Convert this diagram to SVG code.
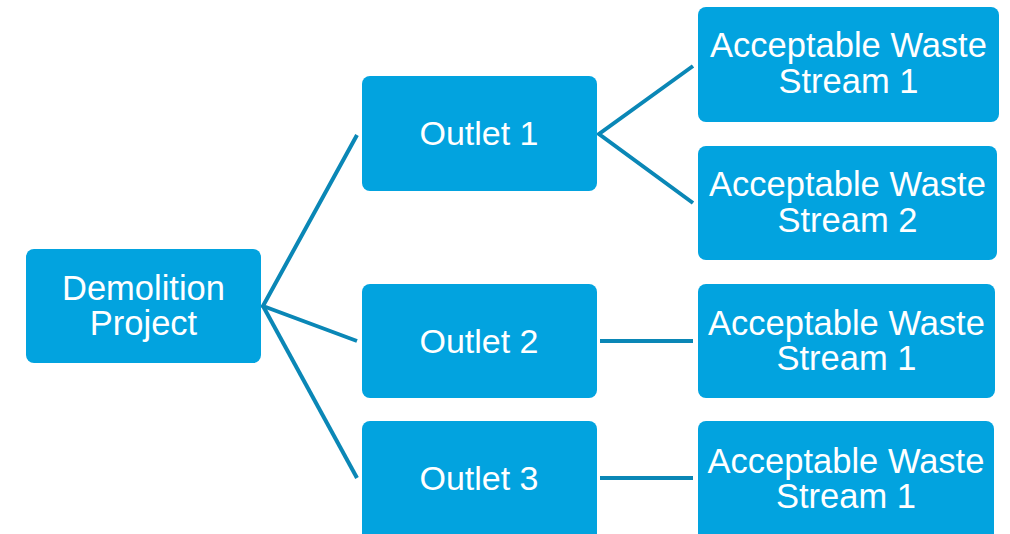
<svg xmlns="http://www.w3.org/2000/svg" width="1010" height="534" viewBox="0 0 1010 534">
  <style>
    .box { fill: #02A3DF; }
    .label { fill: #FFFFFF; font-family: "Liberation Sans", Arial, sans-serif; font-size: 34.5px; text-anchor: middle; }
    .label.short { font-size: 34px; }
    .link { stroke: #0A87B6; stroke-width: 4; fill: none; stroke-linecap: butt; stroke-linejoin: miter; }
  </style>
  <rect width="1010" height="534" fill="#FFFFFF"/>

  <!-- connectors -->
  <g id="connectors">
    <polyline class="link" points="357,135 263,306 357,341"/>
    <line class="link" x1="263" y1="306" x2="357" y2="478"/>
    <polyline class="link" points="693,66 599,134 693,203"/>
    <line class="link" x1="600" y1="341" x2="693" y2="341"/>
    <line class="link" x1="600" y1="478" x2="693" y2="478"/>
  </g>

  <!-- root -->
  <g id="demolition-project">
    <rect class="box" x="26" y="249" width="235" height="114" rx="8"/>
    <text class="label"><tspan x="143.5" y="300">Demolition</tspan><tspan x="143.5" y="335">Project</tspan></text>
  </g>

  <!-- outlets -->
  <g id="outlet-1">
    <rect class="box" x="362" y="76" width="235" height="115" rx="8"/>
    <text class="label short" x="479" y="145">Outlet 1</text>
  </g>
  <g id="outlet-2">
    <rect class="box" x="362" y="284" width="235" height="114" rx="8"/>
    <text class="label short" x="479" y="353">Outlet 2</text>
  </g>
  <g id="outlet-3">
    <rect class="box" x="362" y="421" width="235" height="120" rx="8"/>
    <text class="label short" x="479" y="490">Outlet 3</text>
  </g>

  <!-- waste streams -->
  <g id="outlet-1-stream-1">
    <rect class="box" x="698" y="7" width="301" height="115" rx="8"/>
    <text class="label"><tspan x="848.5" y="57">Acceptable Waste</tspan><tspan x="848.5" y="92.5">Stream 1</tspan></text>
  </g>
  <g id="outlet-1-stream-2">
    <rect class="box" x="698" y="146" width="299" height="114" rx="8"/>
    <text class="label"><tspan x="847.5" y="196">Acceptable Waste</tspan><tspan x="847.5" y="231.5">Stream 2</tspan></text>
  </g>
  <g id="outlet-2-stream-1">
    <rect class="box" x="698" y="284" width="297" height="114" rx="8"/>
    <text class="label"><tspan x="846.5" y="334.5">Acceptable Waste</tspan><tspan x="846.5" y="370">Stream 1</tspan></text>
  </g>
  <g id="outlet-3-stream-1">
    <rect class="box" x="698" y="421" width="296" height="120" rx="8"/>
    <text class="label"><tspan x="846" y="472.5">Acceptable Waste</tspan><tspan x="846" y="508">Stream 1</tspan></text>
  </g>
</svg>
